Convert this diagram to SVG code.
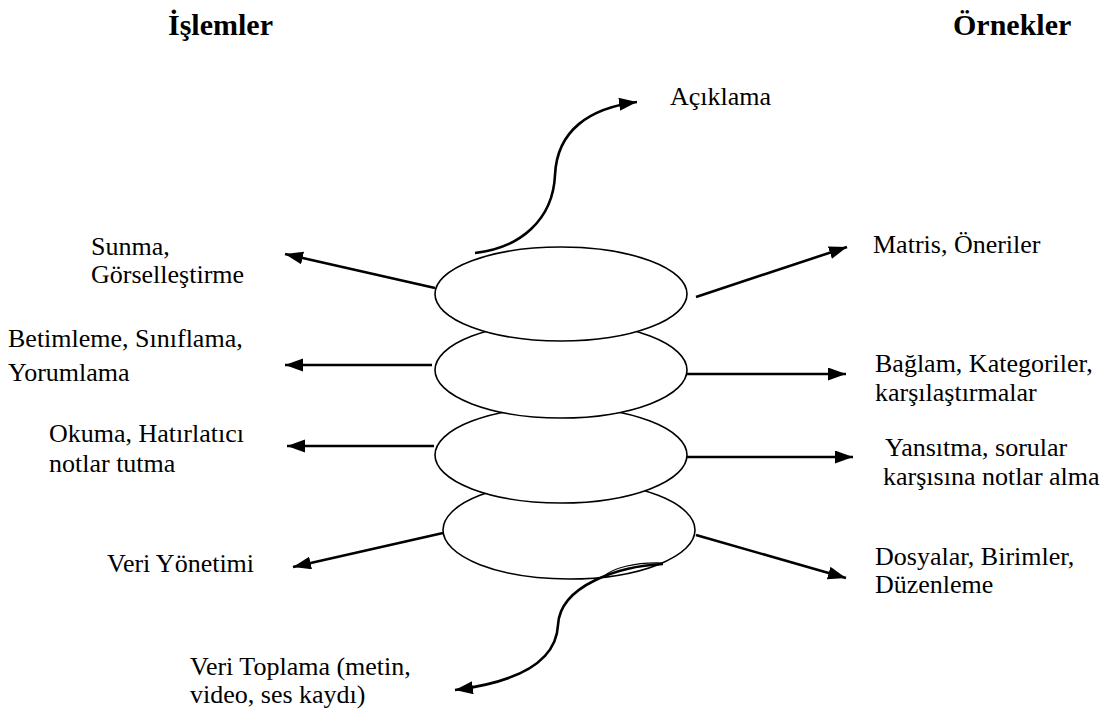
<svg xmlns="http://www.w3.org/2000/svg" width="1110" height="727" viewBox="0 0 1110 727">
<style>
.t{font-family:'Liberation Serif','Times New Roman',Times,'DejaVu Serif',serif;font-size:26px;fill:#000}
.h{font-weight:bold;font-size:30px}
.el{fill:#fff;stroke:#000;stroke-width:1.6}
.c{fill:none;stroke:#000;stroke-width:2.6}
</style>
<defs>
<marker id="ah" markerUnits="userSpaceOnUse" markerWidth="20" markerHeight="14" refX="18" refY="6.5" orient="auto">
<path d="M0,0 L18,6.5 L0,13 z" fill="#000"/>
</marker>
</defs>
<rect width="1110" height="727" fill="#fff"/>
<g id="headers" class="t" font-family="Liberation Serif, serif">
<text class="h" x="168" y="35">İşlemler</text>
<text class="h" x="953" y="35">Örnekler</text>
</g>
<g id="stack">
<g id="n4"><ellipse class="el" cx="569" cy="530" rx="126" ry="49"/></g>
<g id="n3"><ellipse class="el" cx="561" cy="455" rx="126" ry="48"/></g>
<g id="n2"><ellipse class="el" cx="561" cy="370" rx="126" ry="48"/></g>
<g id="n1"><ellipse class="el" cx="561" cy="294" rx="126" ry="47"/></g>
</g>
<g id="connectors">
<path class="c" d="M475,253 C520,248 553,220 555,175 C557,130 590,108 637,102" marker-end="url(#ah)"/>
<path class="c" d="M663,564 C620,566 560,585 558,625 C556,665 510,683 455,690" marker-end="url(#ah)"/>
<path fill="none" stroke="#000" stroke-width="1.2" d="M663,563 C635,562 612,568 603,577"/>
<line class="c" x1="435" y1="288" x2="285" y2="254" marker-end="url(#ah)"/>
<line class="c" x1="432" y1="365" x2="285" y2="365" marker-end="url(#ah)"/>
<line class="c" x1="434" y1="446" x2="287" y2="446" marker-end="url(#ah)"/>
<line class="c" x1="443" y1="533" x2="293" y2="567" marker-end="url(#ah)"/>
<line class="c" x1="696" y1="297" x2="847" y2="247" marker-end="url(#ah)"/>
<line class="c" x1="687" y1="374" x2="846" y2="374" marker-end="url(#ah)"/>
<line class="c" x1="687" y1="457" x2="853" y2="457" marker-end="url(#ah)"/>
<line class="c" x1="696" y1="535" x2="846" y2="578" marker-end="url(#ah)"/>
</g>
<g class="t" font-family="Liberation Serif, serif">
<g id="t-aciklama"><text x="670" y="105">Açıklama</text></g>
<g id="t-sunma"><text x="91" y="255">Sunma,</text><text x="91" y="283">Görselleştirme</text></g>
<g id="t-betimleme"><text x="8" y="347">Betimleme, Sınıflama,</text><text x="8" y="381">Yorumlama</text></g>
<g id="t-okuma"><text x="49" y="442">Okuma, Hatırlatıcı</text><text x="49" y="472">notlar tutma</text></g>
<g id="t-veriyonetimi"><text x="107" y="572">Veri Yönetimi</text></g>
<g id="t-veritoplama"><text x="190" y="675">Veri Toplama (metin,</text><text x="190" y="703">video, ses kaydı)</text></g>
<g id="t-matris"><text x="873" y="253">Matris, Öneriler</text></g>
<g id="t-baglam"><text x="875" y="372">Bağlam, Kategoriler,</text><text x="875" y="401">karşılaştırmalar</text></g>
<g id="t-yansitma"><text x="885" y="456">Yansıtma, sorular</text><text x="883" y="485">karşısına notlar alma</text></g>
<g id="t-dosyalar"><text x="875" y="565">Dosyalar, Birimler,</text><text x="875" y="593">Düzenleme</text></g>
</g>
</svg>
